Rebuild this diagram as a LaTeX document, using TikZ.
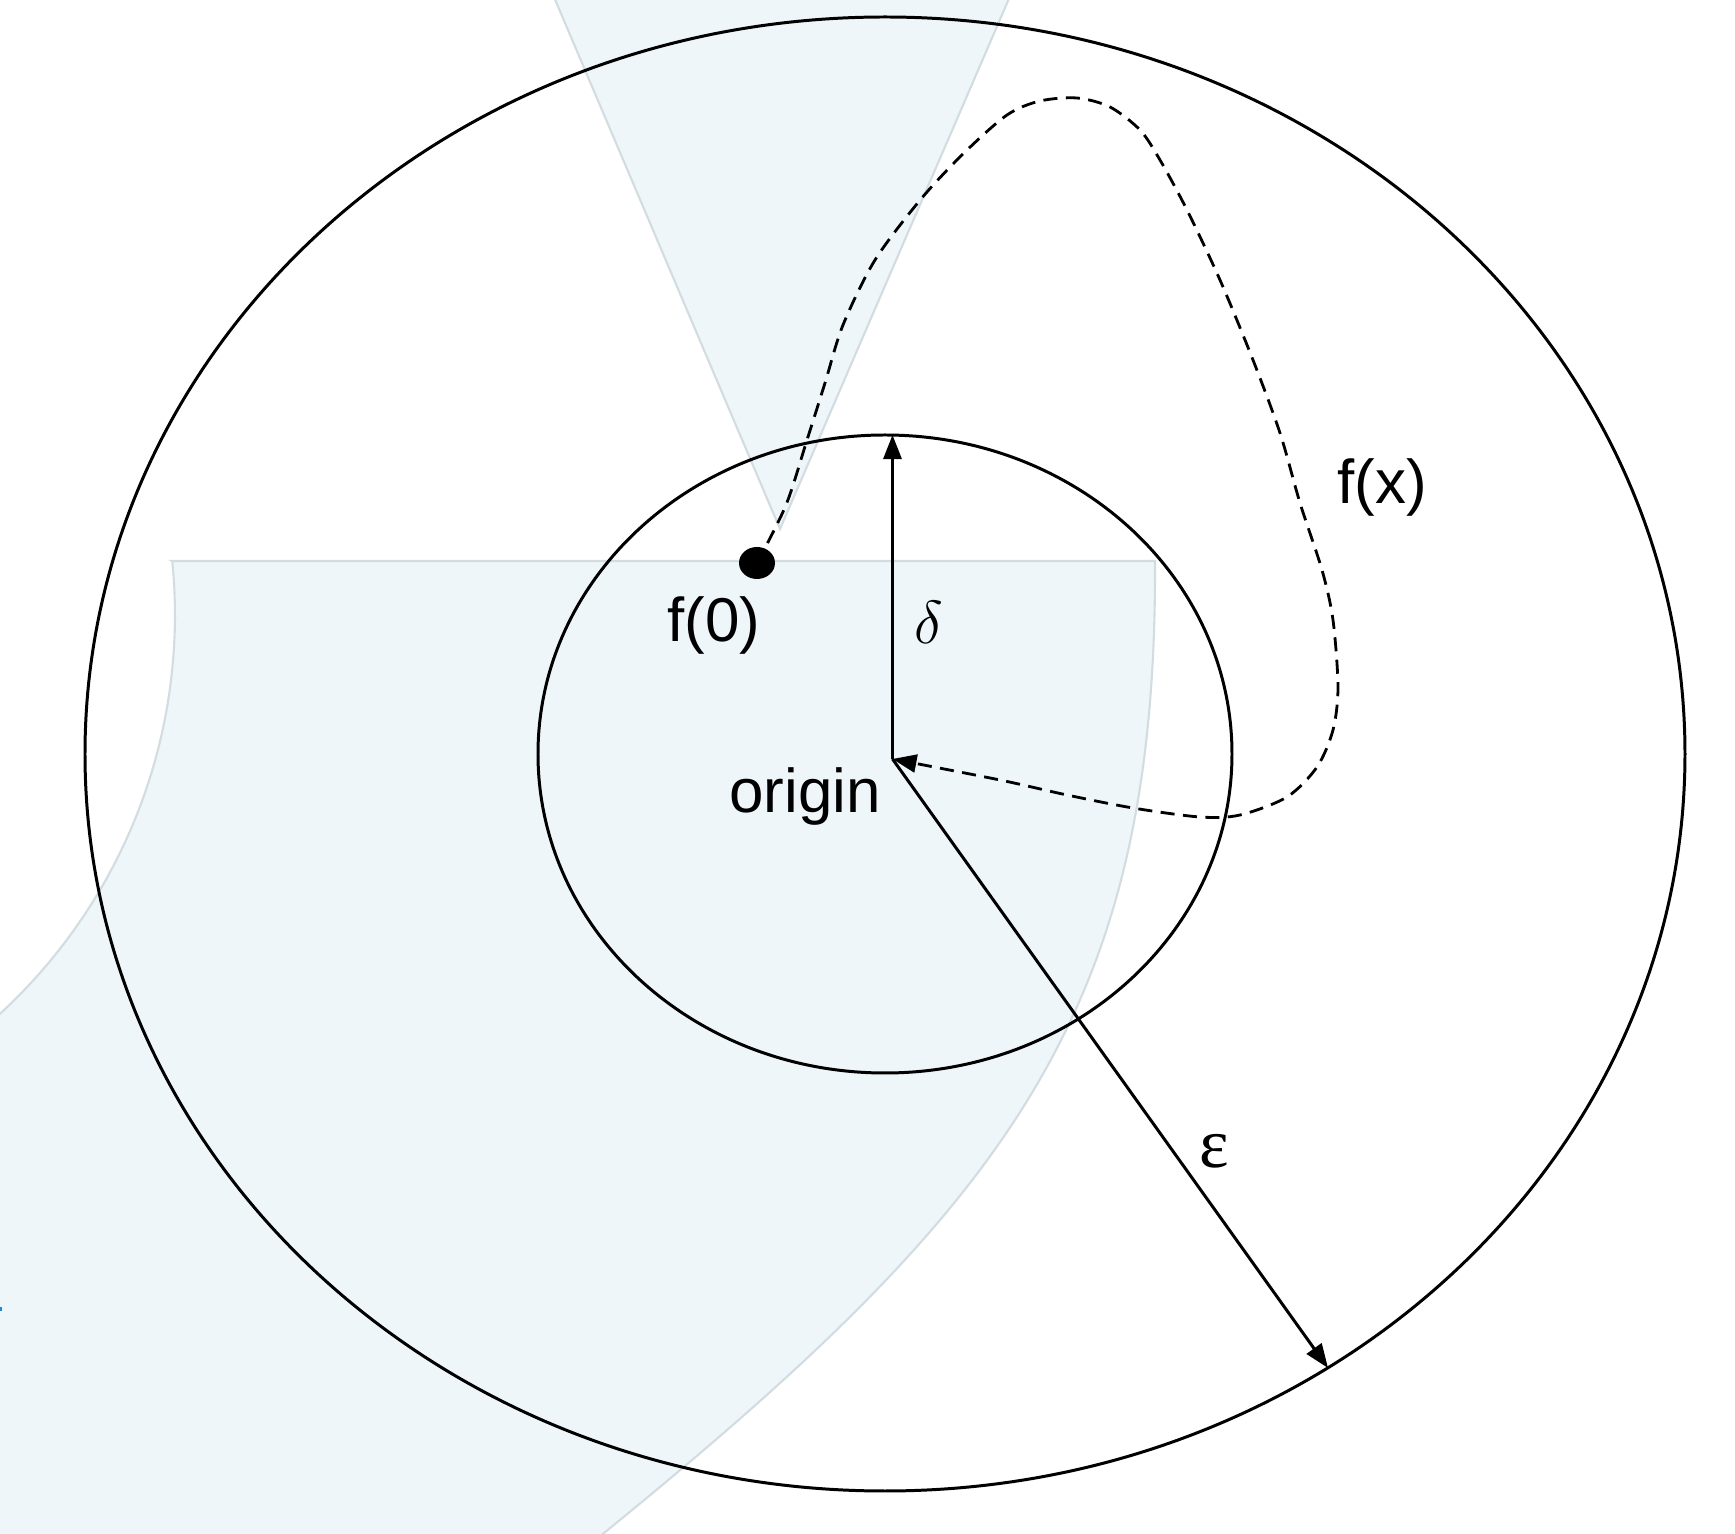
\documentclass[tikz,border=0pt]{standalone}
\usepackage{fontspec}
\setmainfont{Liberation Sans}
\newfontfamily\greekfont{Liberation Serif}
\usetikzlibrary{arrows.meta}
\definecolor{cshade}{HTML}{EFF6FA}
\definecolor{cedge}{HTML}{D3DCE1}
\definecolor{ccaret}{HTML}{1E88D8}

\begin{document}
\begin{tikzpicture}[
  x=0.01cm, y=-0.01cm,
  ray/.style={-{Triangle[length=2.4mm, width=1.8mm]}, line width=0.85pt},
  orbit/.style={-{Triangle[length=2.4mm, width=1.8mm]}, line width=0.8pt, dash pattern=on 4pt off 2.4pt},
  ball/.style={line width=0.85pt},
  region/.style={fill=cshade, draw=cedge, line width=0.6pt},
  txt/.style={inner sep=0pt, font=\fontsize{17.6}{21}\selectfont}
]
\def\cx{885}
\def\cy{754}
\useasboundingbox (0,0) rectangle (1735,1534);
\coordinate (ctr) at (\cx,\cy);
\coordinate (origin) at (892.5,759);
\coordinate (fzero) at (757,563);
\coordinate (dtop) at (892.5,435);
\coordinate (erim) at (1328,1368);
% shaded regions
\begin{scope}
  \clip (0,0) rectangle (1735,1534);
  \path[region] (534,-50) -- (1030,-50) -- (780,529) -- cycle;
  \path[region] (172,561) -- (1155,561)
    .. controls (1157,1011) and (1010,1203) .. (604,1533)
    -- (559,1570) -- (-60,1600)
    -- plot[domain=53.4:-5.7, samples=40] ({-367+542*cos(\x)}, {615+542*sin(\x)})
    -- cycle;
  \fill[ccaret] (0,1307) rectangle (2,1311);
\end{scope}
% discs
\draw[ball] (ctr) circle[x radius=800, y radius=737];
\draw[ball] (ctr) circle[x radius=347, y radius=319];
% radii
\draw[ray] (origin) -- (dtop);
\draw[ray] (origin) -- (erim);
% f(x)
\draw[orbit] plot[smooth] coordinates {(fzero) (786,505) (807,440) (825,383) (843,325) (875,260) (921,199) (964,153) (1007,115) (1040,101) (1077,98) (1110,107) (1140,130) (1160,160) (1187,210) (1220,280) (1253,360) (1280,433) (1300,503) (1322,570) (1333,620) (1338,687) (1333,730) (1317,767) (1287,797) (1240,815) (1200,817) (1133,808) (1067,795) (1000,780) (origin)};
\fill (fzero) circle[x radius=18, y radius=16];
% labels
\node[txt] (fzerotext) at (714,625) {f(0)};
\node[txt] (origintext) at (805,797) {origin};
\node[txt, font=\fontsize{19}{22}\selectfont] (deltatext) at (929,622) {$\delta$};
\node[txt, font=\greekfont\fontsize{20}{23}\selectfont] (epstext) at (1214,1151) {ε};
\node[txt] (fxtext) at (1382,487) {f(x)};
\end{tikzpicture}
\end{document}
